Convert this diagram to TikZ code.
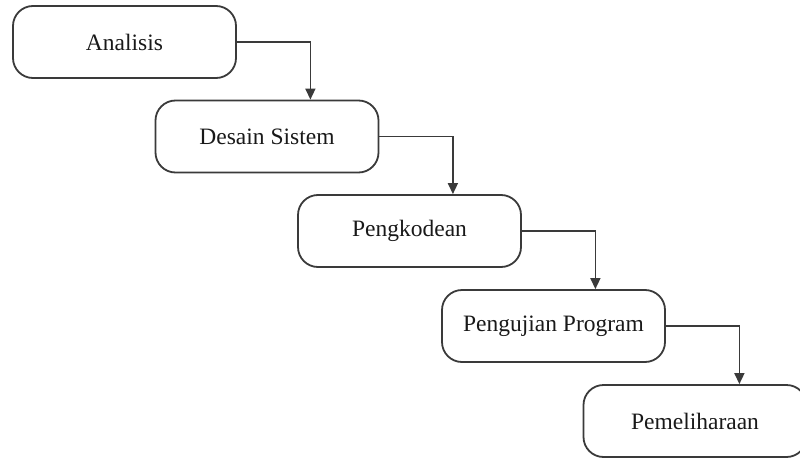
\documentclass[tikz,border=0pt]{standalone}
\usepackage{fontspec}
\setmainfont{Liberation Serif}
\usetikzlibrary{arrows.meta}
\definecolor{edge}{HTML}{3A3A3A}
\tikzset{
  phase/.style={draw=edge, line width=1.8pt, rounded corners=20pt,
    minimum width=223pt, minimum height=72pt, inner sep=0pt,
    font=\fontsize{23.5}{28}\selectfont, text=black!90},
  flow/.style={draw=edge, line width=1.6pt,
    -{Triangle[length=11pt,width=10pt]}}
}
\begin{document}
\begin{tikzpicture}[x=1pt,y=-1pt]
  \useasboundingbox (0,0) rectangle (800,460);
  \clip (0,0) rectangle (800,460);

  % waterfall phases
  \node[phase] (b1) at (124.5,42)  {Analisis};
  \node[phase] (b2) at (267,136.5) {Desain Sistem};
  \node[phase] (b3) at (409.5,231) {Pengkodean};
  \node[phase] (b4) at (553.5,326) {Pengujian Program};
  \node[phase] (b5) at (695,421)   {Pemeliharaan};

  % elbow connectors between consecutive phases
  \foreach \a/\b in {b1/b2, b2/b3, b3/b4, b4/b5}{
    \coordinate (k\a) at ([xshift=73.5pt]\a.east);
    \draw[flow] (\a.east) -- (k\a) -- (k\a |- \b.north);
  }
\end{tikzpicture}
\end{document}
